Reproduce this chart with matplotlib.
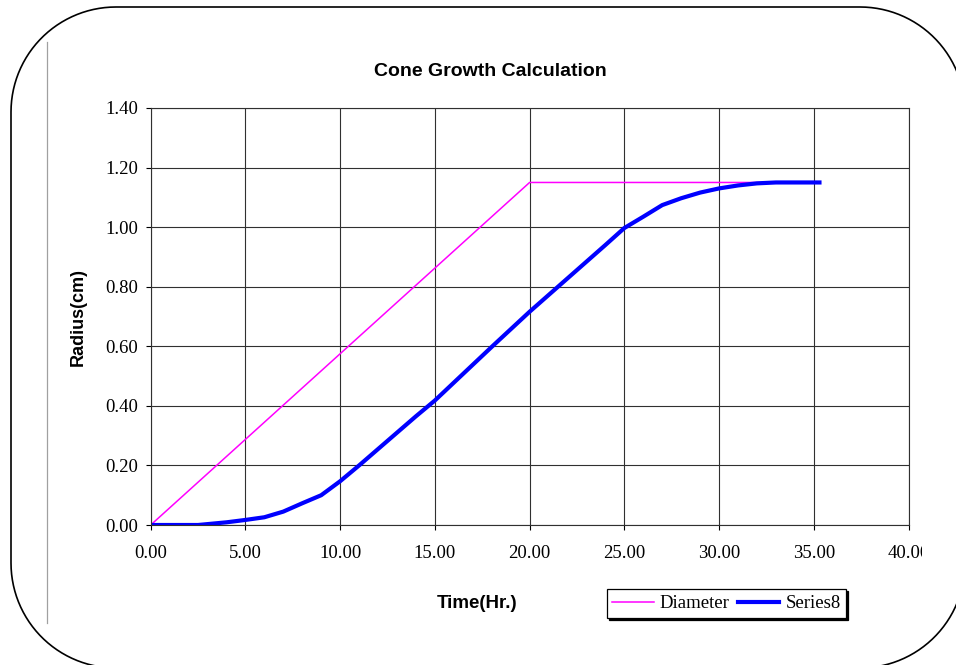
import numpy as np
import matplotlib
matplotlib.use("Agg")
import matplotlib.pyplot as plt
from matplotlib.patches import PathPatch
from matplotlib.path import Path
from matplotlib.lines import Line2D
from matplotlib.transforms import IdentityTransform, Bbox, TransformedBbox

# values
diam_time = [0, 5, 10, 15, 20, 25, 30, 35.3]
diam_radius = [0, 0.2875, 0.575, 0.8625, 1.15, 1.15, 1.15, 1.15]

s8_time = [0, 2.5, 3, 4, 5, 6, 7, 8, 9, 10, 11, 12, 13, 14, 15, 16, 17, 18,
           19, 20, 21, 22, 23, 24, 25, 26, 27, 28, 29, 30, 31, 32, 33, 34, 35.3]
s8_radius = [0, 0, 0.003, 0.009, 0.017, 0.026, 0.045, 0.073, 0.10, 0.147,
             0.20, 0.255, 0.31, 0.365, 0.418, 0.478, 0.538, 0.598, 0.657,
             0.716, 0.772, 0.828, 0.884, 0.94, 0.997, 1.035, 1.074, 1.097,
             1.116, 1.130, 1.140, 1.147, 1.150, 1.150, 1.150]

xticks = [0, 5, 10, 15, 20, 25, 30, 35, 40]
yticks = [0, 0.2, 0.4, 0.6, 0.8, 1.0, 1.2, 1.4]

W, H = 956, 665
fig = plt.figure(figsize=(W / 100, H / 100), dpi=100)
fig.patch.set_facecolor("white")

ax = fig.add_axes([150.7 / W, (H - 525) / H, (908.5 - 150.7) / W, (525 - 108) / H])

ax.plot(diam_time, diam_radius, color="#ff00ff", lw=1.1, label="Diameter")
ax.plot(s8_time, s8_radius, color="#0000ff", lw=3.0, label="Series8")

ax.set_xlim(0, 40)
ax.set_ylim(0, 1.4)
ax.set_xticks(xticks)
ax.set_yticks(yticks)
ax.set_xticklabels(["%.2f" % v for v in xticks])
ax.set_yticklabels(["%.2f" % v for v in yticks])
ax.grid(True, color="#303030", lw=0.8)
ax.set_axisbelow(True)
for sp in ax.spines.values():
    sp.set_color("#303030")
    sp.set_linewidth(0.8)
ax.tick_params(direction="out", length=3.6, width=0.8, color="black",
               labelsize=13.5, labelfontfamily="Liberation Serif")
ax.tick_params(axis="x", pad=11)
ax.tick_params(axis="y", pad=5.5)

# the last x label is cut off by the chart area in the original
lbl = ax.get_xticklabels()[-1]
lbl.set_clip_on(True)
lbl.set_clip_box(TransformedBbox(Bbox([[0, 0], [922 / W, 1]]), fig.transFigure))

fig.text(490 / W, (H - 71) / H, "Cone Growth Calculation", ha="center", va="center",
         fontsize=14, fontweight="bold", family="Liberation Sans")
fig.text(477 / W, (H - 603) / H, "Time(Hr.)", ha="center", va="center",
         fontsize=13.5, fontweight="bold", family="Liberation Sans")
fig.text(78 / W, (H - 317) / H, "Radius(cm)", ha="center", va="center", rotation=90,
         fontsize=13, fontweight="bold", family="Liberation Sans")

leg = ax.legend(loc="center", bbox_to_anchor=(726.5 / W, (H - 603.5) / H),
                bbox_transform=fig.transFigure, ncol=2, frameon=True, fancybox=False,
                prop={"family": "Liberation Serif", "size": 13.5},
                handlelength=2.2, handletextpad=0.32, columnspacing=0.45,
                borderpad=0.3, borderaxespad=0,
                shadow={"color": "black", "alpha": 1, "ox": 1.5, "oy": -1.5})
leg.get_frame().set_edgecolor("black")
leg.get_frame().set_linewidth(0.9)

# rounded chart border (pixel coords, y up) and the grey line at the left
x0, x1, y0, y1, r = 11, 965, -3, 658, 105
pts = []
for cx, cy, a0 in [(x1 - r, y1 - r, 0), (x0 + r, y1 - r, 90),
                   (x0 + r, y0 + r, 180), (x1 - r, y0 + r, 270)]:
    a = np.radians(np.linspace(a0, a0 + 90, 30))
    pts += list(zip(cx + r * np.cos(a), cy + r * np.sin(a)))
pts.append(pts[0])
border = PathPatch(Path(pts), transform=IdentityTransform(), fill=False,
                   edgecolor="black", lw=1.2, clip_on=False)
fig.add_artist(border)
fig.add_artist(Line2D([47 / W, 47 / W], [(H - 623) / H, (H - 42) / H],
                      color="#a0a0a0", lw=0.9, transform=fig.transFigure))

fig.savefig("out.png", dpi=100)
